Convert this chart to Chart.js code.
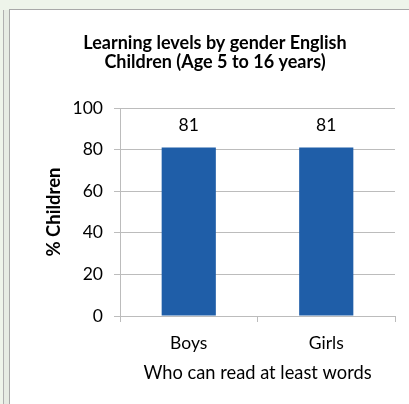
<!DOCTYPE html>
<html>
<head>
<meta charset="utf-8">
<script src="https://cdn.jsdelivr.net/npm/chart.js@4"></script>
<style>
  html, body { margin:0; padding:0; width:409px; height:404px; overflow:hidden; background:#eef4ea; }
  #frame { position:absolute; left:9px; top:9px; width:400px; height:395px; background:#fff; border-top:1px solid #a8a8a8; border-left:1px solid #a8a8a8; }
  #vline { position:absolute; left:3px; top:10px; width:1px; height:394px; background:#b0b0b0; }
  #vfill { position:absolute; left:4px; top:10px; width:5px; height:394px; background:#e6ebe3; }
  #wrap { position:absolute; left:10px; top:10px; }
</style>
</head>
<body>
<div id="vfill"></div>
<div id="vline"></div>
<div id="frame"></div>
<div id="wrap"><canvas id="c" width="399" height="394"></canvas></div>
<script>
const titleLines = ['Learning levels by gender English', 'Children (Age 5 to 16 years)'];
const categories = ['Boys', 'Girls'];
const values = [81, 81];
const yTitle = '% Children';
const xTitle = 'Who can read at least words';
const yMin = 0, yMax = 100, yStep = 20;

const FONT = 'Lato, "Open Sans", sans-serif';
const GRID = '#bcbcbc';

const barLabels = {
  id: 'barLabels',
  afterDatasetsDraw(chart) {
    const ctx = chart.ctx;
    ctx.save();
    ctx.font = '17.5px ' + FONT;
    ctx.fillStyle = '#000';
    ctx.textAlign = 'center';
    ctx.textBaseline = 'middle';
    chart.data.datasets.forEach((ds, i) => {
      chart.getDatasetMeta(i).data.forEach((bar, j) => {
        ctx.fillText(String(ds.data[j]), bar.x, bar.y - 22);
      });
    });
    ctx.restore();
  }
};

new Chart(document.getElementById('c'), {
  type: 'bar',
  data: {
    labels: categories,
    datasets: [{
      data: values,
      backgroundColor: '#1f5ea8',
      borderWidth: 0,
      barPercentage: 0.394,
      categoryPercentage: 1.0
    }]
  },
  options: {
    responsive: false,
    animation: false,
    devicePixelRatio: 1,
    layout: { padding: { left: 25, right: 14, top: 0, bottom: 0 } },
    plugins: {
      legend: { display: false },
      tooltip: { enabled: false },
      title: {
        display: true,
        text: titleLines,
        color: '#000',
        font: { family: FONT, size: 18, weight: 'bold', lineHeight: 19.5/18 },
        padding: { top: 23, bottom: 36 }
      }
    },
    scales: {
      x: {
        afterFit(s) { s.height = 88; },
        grid: { display: true, drawOnChartArea: false, drawTicks: true, tickLength: 6, color: GRID, offset: true },
        border: { display: true, color: GRID },
        ticks: { color: '#000', font: { family: FONT, size: 17.5 }, padding: 10.5 },
        title: { display: true, text: xTitle, color: '#000', font: { family: FONT, size: 18.3 }, padding: { top: 0, bottom: 20 } }
      },
      y: {
        min: yMin, max: yMax,
        afterFit(s) { s.width = 85; },
        grid: { color: GRID, tickLength: 6, drawTicks: true },
        border: { display: true, color: GRID },
        ticks: { stepSize: yStep, color: '#000', font: { family: FONT, size: 17.5 }, padding: 11 },
        title: { display: true, text: yTitle, color: '#000', font: { family: FONT, size: 18.5, weight: 'bold' }, padding: { top: 8, bottom: 0 } }
      }
    }
  },
  plugins: [barLabels]
});
</script>
</body>
</html>
